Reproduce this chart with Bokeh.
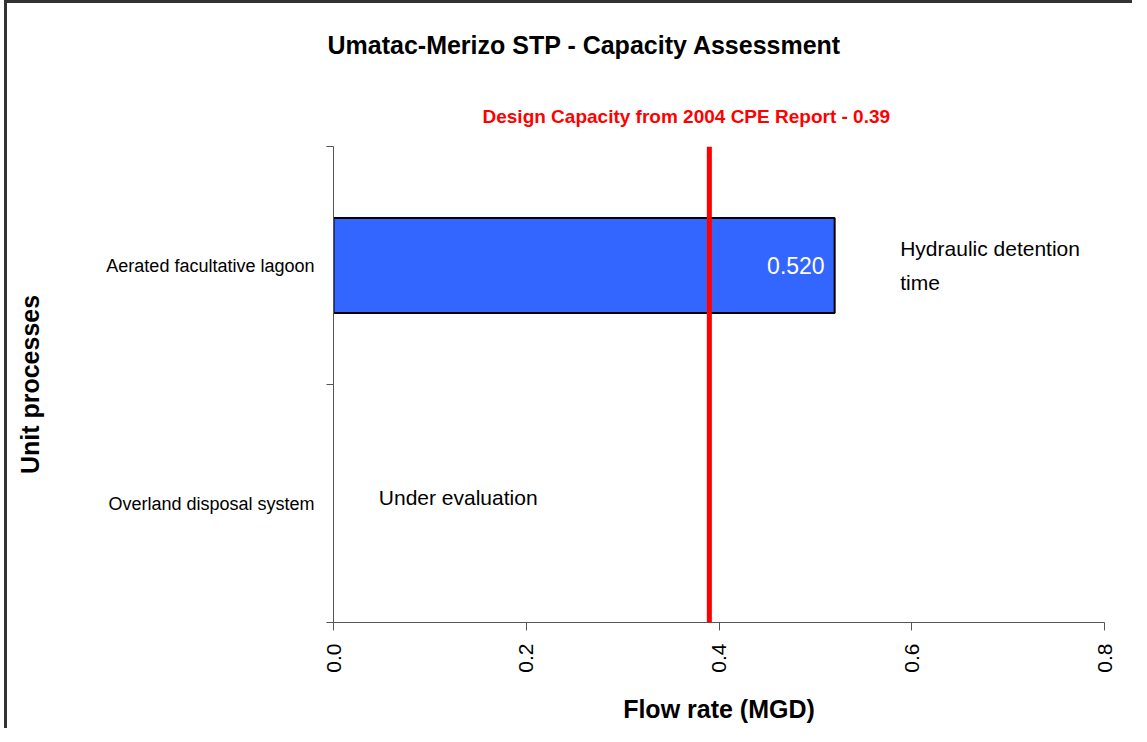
import math
from bokeh.plotting import figure
from bokeh.models import (Range1d, FixedTicker, PrintfTickFormatter, Span, Label,
                          ColumnDataSource, LabelSet, Title)
from bokeh.core.properties import value
from bokeh.embed import file_html
from bokeh.resources import INLINE

# ---- data ----
title_text = "Umatac-Merizo STP - Capacity Assessment"
categories = ["Aerated facultative lagoon", "Overland disposal system"]
flow_values = [0.520, None]
notes = ["Hydraulic detention\ntime", "Under evaluation"]
design_capacity = 0.39
design_label = "Design Capacity from 2004 CPE Report - 0.39"
x_ticks = [0.0, 0.2, 0.4, 0.6, 0.8]
x_label = "Flow rate (MGD)"
y_label = "Unit processes"

FONT = "Liberation Sans"
n = len(categories)
ypos = [n - i - 0.5 for i in range(n)]

p = figure(width=1128, height=728, output_backend="svg", toolbar_location=None,
           x_range=Range1d(x_ticks[0], x_ticks[-1]), y_range=Range1d(0, n),
           min_border_left=326, min_border_right=31, min_border_top=142,
           min_border_bottom=109, title=None)
p.styles = {"border-top": "3px solid #333", "border-left": "3px solid #333",
            "margin-left": "4px"}
p.outline_line_color = None
p.xgrid.visible = False
p.ygrid.visible = False
p.background_fill_color = "white"
p.border_fill_color = "white"

# x axis
xa = p.xaxis[0]
xa.ticker = FixedTicker(ticks=x_ticks, minor_ticks=[])
xa.formatter = PrintfTickFormatter(format="%.1f")
xa.major_label_orientation = math.pi / 2
xa.major_tick_out = 8
xa.major_tick_in = 0
xa.axis_line_color = "#555555"
xa.major_tick_line_color = "#555555"
xa.major_label_text_font = FONT
xa.major_label_text_font_size = "21px"
xa.major_label_text_color = "black"
xa.major_label_standoff = 13
xa.axis_label = x_label
xa.axis_label_text_font = FONT
xa.axis_label_text_font_style = "bold"
xa.axis_label_text_font_size = "25px"
xa.axis_label_text_color = "black"
xa.axis_label_standoff = 19

# y axis
ya = p.yaxis[0]
ya.ticker = FixedTicker(ticks=ypos, minor_ticks=list(range(n + 1)))
ya.major_label_overrides = {y: c for y, c in zip(ypos, categories)}
ya.major_tick_out = 0
ya.major_tick_in = 0
ya.minor_tick_out = 7
ya.minor_tick_in = 0
ya.minor_tick_line_color = "#555555"
ya.axis_line_color = "#555555"
ya.major_label_text_font = FONT
ya.major_label_text_font_size = "18px"
ya.major_label_text_color = "black"
ya.major_label_standoff = 12
ya.axis_label = y_label
ya.axis_label_text_font = FONT
ya.axis_label_text_font_style = "bold"
ya.axis_label_text_font_size = "25px"
ya.axis_label_text_color = "black"
ya.axis_label_standoff = 59

# titles (first added sits closest to the plot)
p.add_layout(Title(text=design_label, align="left", offset=149, standoff=40,
                   text_color="#FF0000", text_font=FONT,
                   text_font_style="bold", text_font_size="19px"), "above")
p.add_layout(Title(text=title_text, align="left", offset=-6, standoff=50,
                   text_color="black", text_font=FONT,
                   text_font_style="bold", text_font_size="25px"), "above")

# bars
bar_y = [y for y, v in zip(ypos, flow_values) if v is not None]
bar_v = [v for v in flow_values if v is not None]
src = ColumnDataSource(dict(y=bar_y, right=bar_v,
                            lab=["%.3f" % v for v in bar_v]))
p.hbar(y="y", left=0, right="right", height=0.4, source=src,
       fill_color="#3366FF", line_color="black", line_width=2)
p.add_layout(LabelSet(x="right", y="y", text="lab", source=src, x_offset=-10,
                      text_align="right", text_baseline="middle",
                      text_color="white", text_font=value(FONT),
                      text_font_size="23px"))

# design capacity line
p.add_layout(Span(location=design_capacity, dimension="height",
                  line_color="#FF0000", line_width=5))

# notes
p.add_layout(Label(x=0.588, y=ypos[0], text=notes[0], text_align="left",
                   text_baseline="middle", text_color="black",
                   text_font=FONT, text_font_size="21px",
                   text_line_height=1.5))
p.add_layout(Label(x=0.047, y=ypos[1] + 0.025, text=notes[1], text_align="left",
                   text_baseline="middle", text_color="black",
                   text_font=FONT, text_font_size="21px"))

open("out.html", "w").write(file_html(p, INLINE))
